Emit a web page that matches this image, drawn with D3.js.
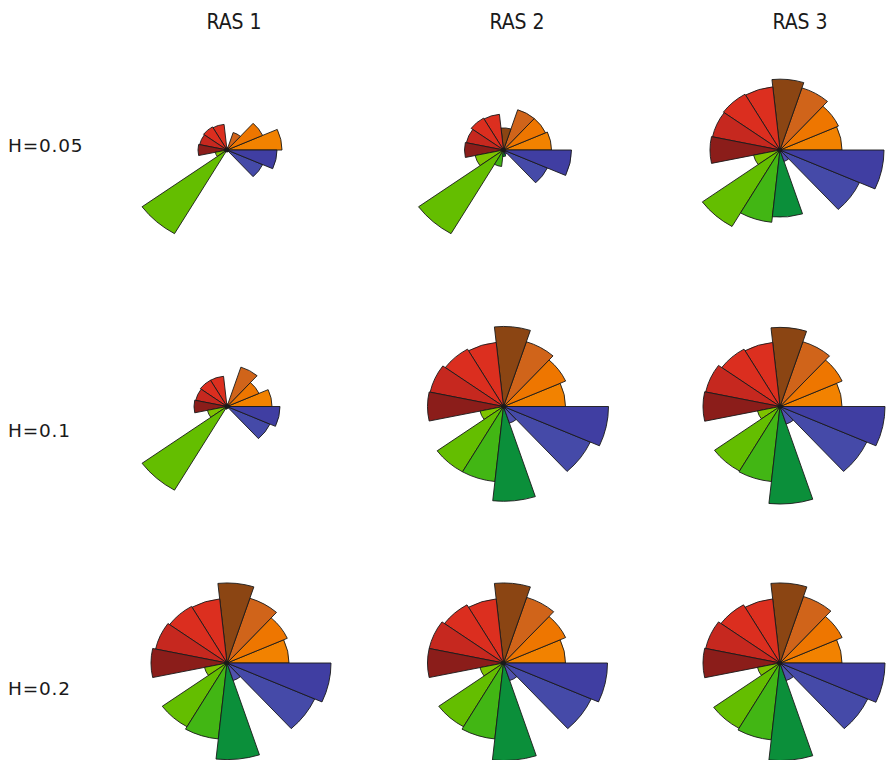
<!DOCTYPE html>
<html>
<head>
<meta charset="utf-8">
<script src="https://cdn.jsdelivr.net/npm/d3@7"></script>
<style>
  body { margin: 0; background: #fff; }
  .col-label { font-family: "Liberation Sans Narrow", "DejaVu Sans Condensed", sans-serif; font-size: 21px; fill: #1a1a1a; }
  .row-label { font-family: "DejaVu Sans", sans-serif; font-size: 18.5px; fill: #1a1a1a; letter-spacing: 0.8px; }
</style>
</head>
<body>
<div id="container"></div>
<script>
/* DATA */
const columns = ["RAS 1", "RAS 2", "RAS 3"];
const rows = ["H=0.05", "H=0.1", "H=0.2"];

// 15 sectors, counter-clockwise from east
const sectors = d3.range(15).map(i => "s" + i);
const sectorColors = ["#f28200", "#ee7600", "#d0641a", "#8b4513", "#dc2f1f", "#db2e1f", "#c6281f", "#8b1d1a",
  "#7ec300", "#64be00", "#42b614", "#0b8f3a", "#5052ae", "#454aa8", "#403ea2"];

// sector lengths
const ras1_h005 = [55, 39, 20, 3, 28, 29, 28, 29, 12, 105, 2, 2, 2, 39, 50];
const ras2_h005 = [48, 46, 46, 24, 39, 40, 38, 39, 29, 105, 18, 7, 5, 48, 68];
const ras3_h005 = [62, 64, 71, 77, 69, 70, 69, 70, 27, 96, 79, 73, 13, 87, 104];
const ras1_h01 = [45, 35, 45, 3, 33, 33, 32, 33, 20, 105, 3, 2, 2, 47, 53];
const ras2_h01 = [62, 68, 74, 87, 70, 72, 75, 76, 24, 82, 82, 103, 19, 95, 105];
const ras3_h01 = [62, 68, 74, 86, 70, 72, 76, 77, 23, 81, 82, 106, 20, 95, 105];
const ras1_h02 = [62, 66, 74, 87, 70, 71, 73, 76, 23, 80, 83, 105, 20, 96, 104];
const ras2_h02 = [62, 68, 75, 87, 70, 73, 76, 76, 24, 80, 83, 106, 20, 96, 104];
const ras3_h02 = [62, 68, 76, 87, 70, 73, 76, 77, 23, 82, 84, 106, 20, 96, 105];

const panels = [
  [ras1_h005, ras2_h005, ras3_h005],
  [ras1_h01, ras2_h01, ras3_h01],
  [ras1_h02, ras2_h02, ras3_h02]
];

/* SIZES */
const width = 886, height = 760;
const squash = 0.92; // the roses are a little flatter than round

const svg = d3.select("#container")
  .append("svg")
  .attr("width", width)
  .attr("height", height);

/* SCALES */
const xScale = d3.scalePoint().domain(columns).range([227, 780]);
const yScale = d3.scalePoint().domain(rows).range([150, 663]);
const titleX = d3.scalePoint().domain(columns).range([234, 800]);
const labelY = d3.scaleOrdinal().domain(rows).range([152, 437, 695]);

// angles: band per sector, going counter-clockwise from 3 o'clock
const angle = d3.scaleBand().domain(sectors).range([Math.PI / 2, Math.PI / 2 - 2 * Math.PI]);
const rScale = d3.scaleLinear().domain([0, 105]).range([0, 105]);
const color = d3.scaleOrdinal().domain(sectors).range(sectorColors);

const arc = d3.arc()
  .innerRadius(0)
  .outerRadius(d => rScale(d.value))
  .startAngle(d => angle(d.id))
  .endAngle(d => angle(d.id) + angle.bandwidth());

/* TITLES */
svg.selectAll("text.col-label")
  .data(columns)
  .join("text")
  .attr("class", "col-label")
  .attr("x", d => titleX(d))
  .attr("y", 29)
  .attr("text-anchor", "middle")
  .text(d => d);

svg.selectAll("text.row-label")
  .data(rows)
  .join("text")
  .attr("class", "row-label")
  .attr("x", 8)
  .attr("y", d => labelY(d))
  .text(d => d);

/* ROSES */
rows.forEach((row, ri) => {
  columns.forEach((col, ci) => {
    const vals = panels[ri][ci].map((v, i) => ({ id: sectors[i], value: v }));
    const g = svg.append("g")
      .attr("transform", `translate(${xScale(col)},${yScale(row)}) scale(1,${squash})`);

    g.selectAll("path")
      .data(vals)
      .join("path")
      .attr("d", arc)
      .attr("fill", d => color(d.id))
      .attr("stroke", "#1a1a1a")
      .attr("stroke-width", 0.9)
      .attr("stroke-linejoin", "round")
      .attr("vector-effect", "non-scaling-stroke");

    g.append("circle")
      .attr("r", 2.5)
      .attr("fill", "#1a1a1a");
  });
});
</script>
</body>
</html>
